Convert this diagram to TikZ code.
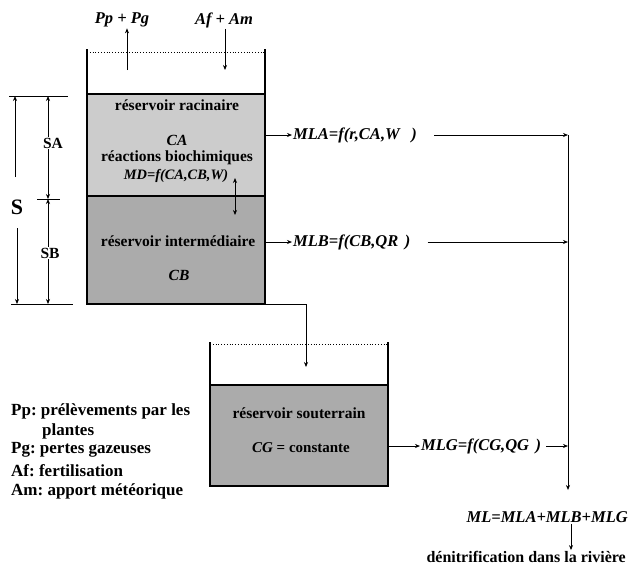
\documentclass[tikz,border=0pt]{standalone}
\usepackage{fontspec}
\setmainfont{Liberation Serif}
\usetikzlibrary{arrows.meta}
\frenchspacing
\begin{document}
\begin{tikzpicture}[x=1pt,y=-1pt,
 conn/.style={-{Stealth[length=5pt,width=4pt]}, line width=0.7pt},
 dconn/.style={{Stealth[length=5pt,width=4pt]}-{Stealth[length=5pt,width=4pt]}, line width=0.7pt},
 wall/.style={line width=1.6pt},
 thin/.style={line width=0.7pt},
 res/.style={draw, line width=1.6pt, inner sep=0pt},
 lab/.style={font=\fontsize{15.5}{17}\selectfont\bfseries, inner sep=1pt},
 ilab/.style={font=\fontsize{15.5}{17}\selectfont\bfseries\itshape, inner sep=1pt},
 flab/.style={font=\fontsize{16.5}{18}\selectfont\bfseries\itshape, inner sep=1pt},
 leg/.style={font=\fontsize{17}{19}\selectfont\bfseries, inner sep=1pt, anchor=west},
]
\useasboundingbox (0,0) rectangle (631,574);

% top container
\draw[wall] (87,49) -- (87,94);
\draw[wall] (265,49) -- (265,94);
\draw[dotted, line width=0.8pt] (87,52) -- (265,52);
\node[res, fill=black!20, minimum width=178pt, minimum height=102pt] (ra) at (176,145) {};
\node[res, fill=black!33, minimum width=178pt, minimum height=108pt] (rb) at (176,250) {};

\node[lab] (t1) at (177,105) {réservoir racinaire};
\node[ilab] (ca) at (177,140) {CA};
\node[lab] (t2) at (177,158) {réactions biochimiques};
\node[ilab, font=\fontsize{14.4}{16}\selectfont\bfseries\itshape] (md) at (176,176) {MD=f(CA,CB,W)};
\coordinate (mdt) at (235,178);
\coordinate (mdb) at (235,215);
\draw[dconn] (mdt) -- (mdb);

\node[lab] (t3) at (178,241) {réservoir intermédiaire};
\node[ilab] (cb) at (179,275) {CB};

% inputs / outputs on top
\node[flab] (pp) at (122,20) {Pp + Pg};
\node[flab] (af) at (224,20) {Af + Am};
\coordinate (ppb) at (127,70);
\draw[conn] (ppb) -- (ppb |- pp.south);
\coordinate (afb) at (225,70);
\draw[conn] (afb |- af.south) -- (afb);

% lateral fluxes
\node[flab, anchor=west] (mla) at (292,135) {MLA=f(r,CA,W\hspace{0.7em})};
\draw[conn] (ra.east |- mla.west) -- (mla.west);
\coordinate (ja) at (568,135);
\draw[conn] ([xshift=16pt]mla.east) -- (ja);

\node[flab, anchor=west] (mlb) at (292,242) {MLB=f(CB,QR\hspace{0.4em})};
\draw[conn] (rb.east |- mlb.west) -- (mlb.west);
\coordinate (jb) at (568,242);
\draw[conn] ([xshift=16pt]mlb.east) -- (jb);

% bottom container
\draw[wall] (210,342) -- (210,385);
\draw[wall] (388,342) -- (388,385);
\draw[dotted, line width=0.8pt] (210,344) -- (388,344);
\node[res, fill=black!33, minimum width=178pt, minimum height=101pt] (rg) at (299,435.5) {};
\node[lab] (t4) at (299,413) {réservoir souterrain};
\node[lab, font=\fontsize{15}{17}\selectfont\bfseries] (cg) at (301,448) {\textit{CG} = constante};

\coordinate (gin) at (306,367);
\draw[conn] (rb.south east) -| (gin);

\node[flab, anchor=west] (mlg) at (420,446) {MLG=f(CG,QG\hspace{0.4em})};
\draw[conn] (rg.east |- mlg.west) -- (mlg.west);
\coordinate (jg) at (568,446);
\draw[conn] ([xshift=4pt]mlg.east) -- (jg);

\coordinate (jend) at (568,490);
\draw[conn] (ja) -- (jend);

\node[flab, anchor=east] (ml) at (629,517) {ML=MLA+MLB+MLG};
\node[lab, font=\fontsize{16}{18}\selectfont\bfseries, anchor=east] (den) at (627,557) {dénitrification dans la rivière};
\coordinate (mlx) at (571,0);
\draw[conn] (ml.south -| mlx) -- (den.north -| mlx);

% legend
\node[leg] (l1) at (10,411) {Pp: prélèvements par les};
\node[leg] (l2) at (41,431) {plantes};
\node[leg] (l3) at (10,450) {Pg: pertes gazeuses};
\node[leg] (l4) at (10,471) {Af: fertilisation};
\node[leg] (l5) at (10,491) {Am: apport météorique};

% depth dimensions
\node[font=\fontsize{22}{24}\selectfont\bfseries, inner sep=1pt] (S) at (17,207) {S};
\node[lab] (SA) at (53,143) {SA};
\node[lab] (SB) at (50,253) {SB};
\coordinate (dtl) at (9,96);   \coordinate (dtr) at (68,96);
\coordinate (dml) at (37,199); \coordinate (dmr) at (60,199);
\coordinate (dbl) at (11,304); \coordinate (dbr) at (73,304);
\draw[thin] (dtl) -- (dtr);
\draw[thin] (dml) -- (dmr);
\draw[thin] (dbl) -- (dbr);
\coordinate (s1) at (15,177); \coordinate (s2) at (17,228);
\draw[conn] (s1) -- (s1 |- dtl);
\draw[conn] (s2) -- (s2 |- dbl);
\coordinate (ix) at (48,0);
\draw[conn] (SA.north -| ix) -- (ix |- dtl);
\draw[conn] (SA.south -| ix) -- (ix |- dml);
\draw[conn] (SB.north -| ix) -- (ix |- dml);
\draw[conn] (SB.south -| ix) -- (ix |- dbl);
\end{tikzpicture}
\end{document}
